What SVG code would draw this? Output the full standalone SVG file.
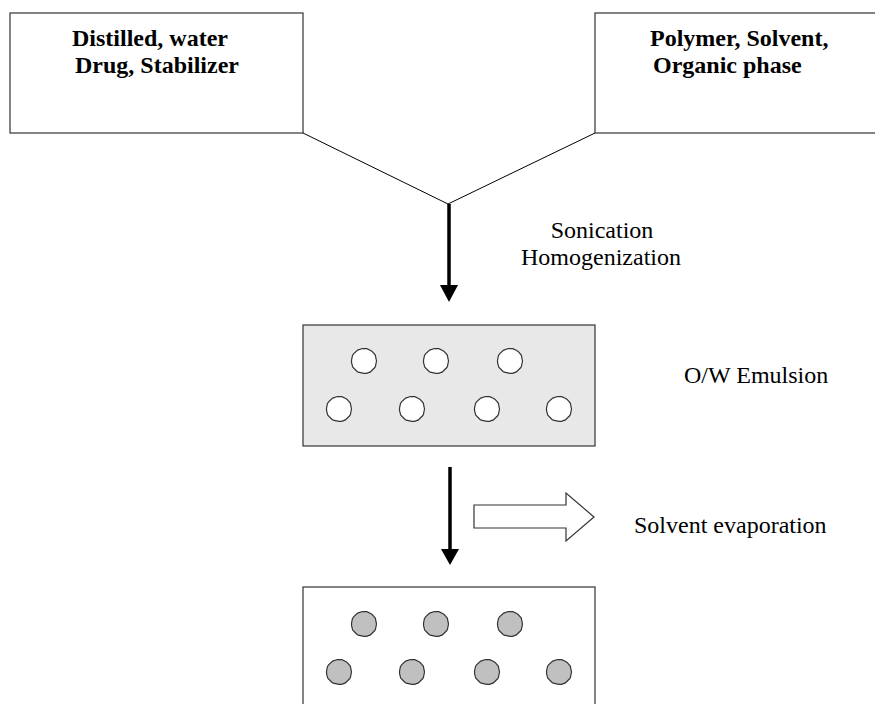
<svg xmlns="http://www.w3.org/2000/svg" xmlns:xlink="http://www.w3.org/1999/xlink" width="875" height="704" viewBox="0 0 875 704">
  <style>
    .box { fill: #ffffff; stroke: #333333; stroke-width: 1.2; }
    .emul { fill: #e8e8e8; stroke: #333333; stroke-width: 1.2; }
    .title { font-family: "Liberation Serif", "Times New Roman", serif; font-weight: bold; font-size: 24px; fill: #000; }
    .label { font-family: "Liberation Serif", "Times New Roman", serif; font-size: 24px; fill: #000; }
    .thin { stroke: #000; stroke-width: 1; fill: none; }
    .shaft { stroke: #000; stroke-width: 3.5; fill: none; }
    .head { fill: #000; stroke: none; }
    .oil { fill: #ffffff; stroke: #333333; stroke-width: 1.2; }
    .particle { fill: #c0c0c0; stroke: #333333; stroke-width: 1.2; }
    .block { fill: #ffffff; stroke: #333333; stroke-width: 1.2; }
  </style>
  <defs>
    <!-- slightly irregular droplet outline, centred on 0,0 -->
    <polygon id="drop" points="12.5,0 11.4,5.6 10.6,6.8 6.4,10.9 2.5,12.3 0,12.4 -5.8,11.2 -6.9,10.5 -11.2,6.3 -12.4,1.8 -12.5,-0.8 -11.5,-5.5 -10.2,-7.4 -6.3,-10.9 -1.6,-12.5 2.8,-12.3 6.7,-10.6 8.1,-9.6 11.3,-5.9"/>
  </defs>

  <!-- aqueous phase -->
  <g id="aqueous">
    <rect class="box" x="10" y="13" width="293" height="120"/>
    <text class="title" x="72" y="46">Distilled, water</text>
    <text class="title" x="75" y="73">Drug, Stabilizer</text>
  </g>

  <!-- organic phase -->
  <g id="organic">
    <rect class="box" x="595" y="13" width="300" height="120"/>
    <text class="title" x="650" y="46">Polymer, Solvent,</text>
    <text class="title" x="653" y="73">Organic phase</text>
  </g>

  <!-- oil-in-water emulsion -->
  <g id="emulsion">
    <rect class="emul" x="303" y="325" width="292" height="121"/>
    <use xlink:href="#drop" class="oil" x="364" y="361"/>
    <use xlink:href="#drop" class="oil" x="436" y="361"/>
    <use xlink:href="#drop" class="oil" x="510" y="361"/>
    <use xlink:href="#drop" class="oil" x="339" y="409"/>
    <use xlink:href="#drop" class="oil" x="412" y="409"/>
    <use xlink:href="#drop" class="oil" x="487" y="409"/>
    <use xlink:href="#drop" class="oil" x="559" y="409"/>
  </g>
  <g id="emulsion-label">
    <text class="label" x="684" y="383">O/W Emulsion</text>
  </g>

  <!-- nanoparticle suspension -->
  <g id="nanoparticles">
    <rect class="box" x="303" y="587" width="292" height="130"/>
    <use xlink:href="#drop" class="particle" x="364" y="624"/>
    <use xlink:href="#drop" class="particle" x="436" y="624"/>
    <use xlink:href="#drop" class="particle" x="510" y="624"/>
    <use xlink:href="#drop" class="particle" x="339" y="672"/>
    <use xlink:href="#drop" class="particle" x="412" y="672"/>
    <use xlink:href="#drop" class="particle" x="487" y="672"/>
    <use xlink:href="#drop" class="particle" x="559" y="672"/>
  </g>

  <!-- solvent removal -->
  <g id="evaporation">
    <polygon class="block" points="474,505 566,505 566,493 594,517 566,541 566,528 474,528"/>
    <text class="label" x="634" y="533">Solvent evaporation</text>
  </g>

  <!-- process steps -->
  <g id="connectors">
    <polyline class="thin" points="303,133 448,204 595,133"/>
    <line class="shaft" x1="449" y1="204" x2="449" y2="288"/>
    <polygon class="head" points="440,285 458,285 449,302"/>
    <line class="shaft" x1="450" y1="467" x2="450" y2="552"/>
    <polygon class="head" points="441,549 459,549 450,565"/>
    <text class="label" x="602" y="238" text-anchor="middle">Sonication</text>
    <text class="label" x="601" y="265" text-anchor="middle">Homogenization</text>
  </g>
</svg>
